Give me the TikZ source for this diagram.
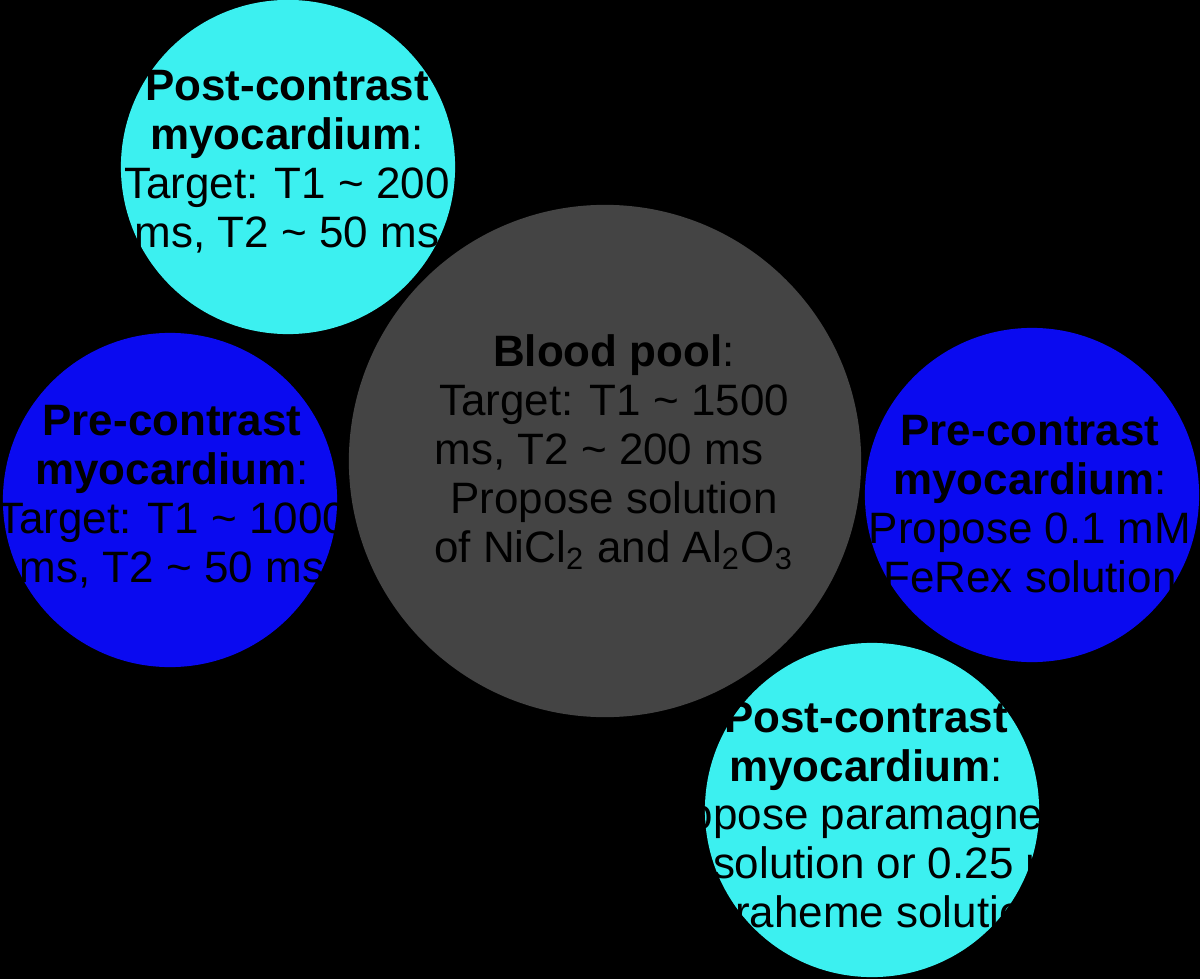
\documentclass[tikz,border=0pt]{standalone}
\usepackage{fontspec}
\setmainfont{Liberation Sans}
\usepackage{xcolor}
\usepackage{tikz}
\definecolor{ballcyan}{RGB}{60,240,240}
\definecolor{ballblue}{RGB}{10,10,240}
\definecolor{ballgrey}{RGB}{68,68,68}

\begin{document}
\begin{tikzpicture}[x=0.01cm,y=-0.01cm,
    ball/.style={circle,inner sep=0pt,draw=none},
    cyanball/.style={ball,fill=ballcyan,minimum size=3.34cm},
    blueball/.style={ball,fill=ballblue,minimum size=3.34cm},
    greyball/.style={ball,fill=ballgrey,minimum size=5.12cm},
    txt/.style={text=black,align=center,inner sep=0pt,font=\fontsize{12.5}{13.9}\selectfont}]
    \useasboundingbox (0,0) rectangle (1200,979);
    \fill[black] (0,0) rectangle (1200,979);
    \node[cyanball](postA) at (288,167){};
    \node[blueball](preA) at (170,500){};
    \node[greyball](pool) at (605,461){};
    \node[blueball](preB) at (1032,495){};
    \node[cyanball](postB) at (872,810){};
    \node[txt](postAtext) at (287,162){\textbf{Post-contrast}\\\textbf{myocardium}:\\Target: T1 \textasciitilde{} 200\\ms, T2 \textasciitilde{} 50 ms};
    \node[txt](preAtext) at (172,497){\textbf{Pre-contrast}\\\textbf{myocardium}:\\Target: T1 \textasciitilde{} 1000\\ms, T2 \textasciitilde{} 50 ms};
    \node[txt](pooltext) at (614,452){\textbf{Blood pool}:\\Target: T1 \textasciitilde{} 1500\\ms, T2 \textasciitilde{} 200 ms\rule{0.3cm}{0pt}\\Propose solution\\of NiCl\textsubscript{2} and Al\textsubscript{2}O\textsubscript{3}};
    \node[txt](preBtext) at (1030,504){\textbf{Pre-contrast}\\\textbf{myocardium}:\\Propose 0.1 mM\\FeRex solution};
    \node[txt](postBtext) at (866,815){\textbf{Post-contrast}\\\textbf{myocardium}:\\Propose paramagnetic\\\hspace*{0.8cm}solution or 0.25 mM\\Feraheme solution};
  \end{tikzpicture}
\end{document}
